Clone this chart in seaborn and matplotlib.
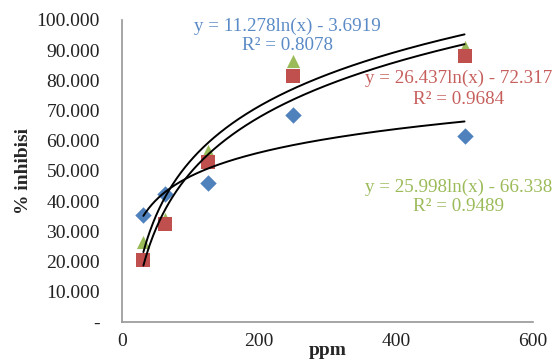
import matplotlib
matplotlib.use("Agg")
import matplotlib.pyplot as plt
import seaborn as sns
import numpy as np
import pandas as pd

# data
ppm = [31.25, 62.5, 125, 250, 500]
series_names = ["A", "B", "C"]
blue_vals = [35.5, 42.5, 46.0, 68.5, 61.5]
red_vals = [20.5, 32.5, 53.0, 81.5, 88.0]
green_vals = [26.5, 34.0, 56.5, 86.5, 91.0]
# trendline coefficients y = a ln(x) + b
coef_a = [11.278, 26.437, 25.998]
coef_b = [-3.6919, -72.317, -66.338]
r2 = [0.8078, 0.9684, 0.9489]
eq_texts = ["y = 11.278ln(x) - 3.6919", "y = 26.437ln(x) - 72.317", "y = 25.998ln(x) - 66.338"]
r2_texts = ["R² = 0.8078", "R² = 0.9684", "R² = 0.9489"]
x_ticks = [0, 200, 400, 600]
y_ticks = [0, 10, 20, 30, 40, 50, 60, 70, 80, 90, 100]

sns.set_theme(style="white")
plt.rcParams['font.family'] = ['Liberation Serif', 'DejaVu Serif']

fig = plt.figure(figsize=(5.57, 3.63), dpi=100)
ax = fig.add_axes([0.219, 0.113, 0.738, 0.832])

colors = {"A": "#4F81BD", "B": "#C0504D", "C": "#9BBB59"}
text_colors = {"A": "#5A8AC6", "B": "#C65F5C", "C": "#9BBB59"}
markers = {"A": "D", "B": "s", "C": "^"}
sizes = {"A": 70, "B": 115, "C": 90}

df = pd.DataFrame({
    "ppm": ppm * 3,
    "val": blue_vals + red_vals + green_vals,
    "s": [n for n in series_names for _ in ppm],
})

for name in ["A", "C", "B"]:
    sub = df[df.s == name]
    sns.scatterplot(data=sub, x="ppm", y="val", marker=markers[name],
                    color=colors[name], s=sizes[name], linewidth=0, ax=ax, zorder=3)

xs = np.linspace(min(ppm), max(ppm), 300)
for a, b in zip(coef_a, coef_b):
    line_df = pd.DataFrame({"x": xs, "y": a * np.log(xs) + b})
    sns.lineplot(data=line_df, x="x", y="y", color="black", linewidth=1.4, ax=ax, zorder=4)

ax.set_xlim(0, 600)
ax.set_ylim(0, 100)
ax.set_xticks(x_ticks)
ax.set_yticks(y_ticks)
ax.set_yticklabels(["-" if v == 0 else f"{v:.3f}" for v in y_ticks])
ax.tick_params(axis="both", length=0, labelsize=14, colors="#222222")
ax.tick_params(axis="y", pad=16)
ax.tick_params(axis="x", pad=8)

for side in ["top", "right"]:
    ax.spines[side].set_visible(False)
for side in ["left", "bottom"]:
    ax.spines[side].set_color("#969696")
    ax.spines[side].set_linewidth(1.2)

ax.set_xlabel("ppm", fontsize=14, fontweight="bold", va="baseline")
ax.set_ylabel("% inhibisi", fontsize=14, fontweight="bold", labelpad=3)
ax.xaxis.set_label_coords(0.5, -0.108)

pos = {"A": [(242, 98.0), (242, 91.5)],
       "B": [(491, 80.8), (491, 73.8)],
       "C": [(491, 44.5), (491, 38.3)]}
for i, name in enumerate(series_names):
    (x1, y1), (x2, y2) = pos[name]
    ax.text(x1, y1, eq_texts[i], ha="center", va="center", fontsize=13.7, color=text_colors[name])
    ax.text(x2, y2, r2_texts[i], ha="center", va="center", fontsize=13.7, color=text_colors[name])

ax.set_facecolor("white")
fig.patch.set_facecolor("white")
fig.savefig("out.png", dpi=100)
